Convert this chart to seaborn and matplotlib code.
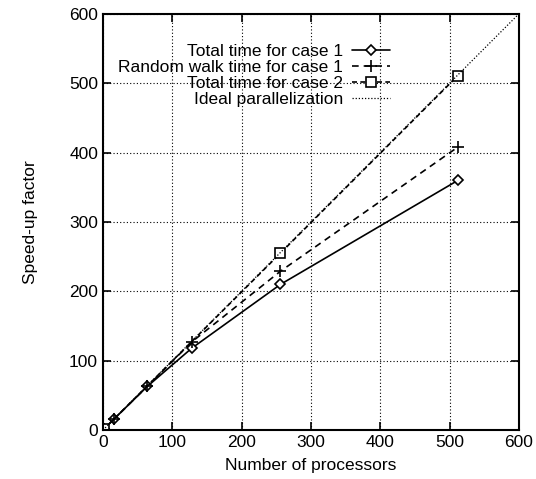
import seaborn as sns
import matplotlib.pyplot as plt
import pandas as pd

# speed-up data
procs_case1 = [1, 16, 64, 128, 256, 512]
total_case1 = [1, 16, 63, 118, 210, 360]
walk_case1 = [1, 16, 63, 127, 229, 408]

procs_case2 = [1, 256, 512]
total_case2 = [1, 255, 511]

ideal_x = [0, 600]
ideal_y = [0, 600]

sns.set_style('ticks')
plt.rcParams['font.family'] = ['Liberation Sans', 'DejaVu Sans']
plt.rcParams['text.color'] = 'black'
plt.rcParams['axes.labelcolor'] = 'black'

fig = plt.figure(figsize=(5.36, 4.79), dpi=100)
ax = fig.add_axes([0.192, 0.102, 0.776, 0.869])

df1 = pd.DataFrame({'p': procs_case1, 'total': total_case1, 'walk': walk_case1})
df2 = pd.DataFrame({'p': procs_case2, 'total': total_case2})

sns.lineplot(x='p', y='total', data=df1, ax=ax, color='black', lw=1.2,
             marker='D', markersize=5, markerfacecolor='white', markeredgecolor='black',
             markeredgewidth=1.2, label='Total time for case 1')
sns.lineplot(x='p', y='walk', data=df1, ax=ax, color='black', lw=1.2,
             linestyle=(0, (4, 3)), marker='+', markersize=8, markeredgecolor='black',
             markeredgewidth=1.2, label='Random walk time for case 1')
sns.lineplot(x='p', y='total', data=df2, ax=ax, color='black', lw=1.2,
             linestyle=(0, (3, 2)), marker='s', markersize=7, markerfacecolor='white',
             markeredgecolor='black', markeredgewidth=1.2, label='Total time for case 2')
ax.plot(ideal_x, ideal_y, color='black', lw=0.9, linestyle=(0, (1, 1.5)),
        label='Ideal parallelization')

ax.set_xlim(0, 600)
ax.set_ylim(0, 600)
ax.set_xticks(range(0, 601, 100))
ax.set_yticks(range(0, 601, 100))
ax.grid(True, color='black', linestyle=(0, (1, 2)), lw=0.8)
ax.tick_params(direction='in', top=True, right=True, length=6, width=1.2, labelsize=12.5,
               colors='black')
for s in ax.spines.values():
    s.set_linewidth(1.5)
    s.set_color('black')

ax.set_xlabel('Number of processors', fontsize=12.5, labelpad=6)
ax.set_ylabel('Speed-up factor', fontsize=12.5, labelpad=22)

# gnuplot-style key: labels right-aligned, sample lines on the right
leg = ax.legend(loc='upper right', bbox_to_anchor=(0.72, 0.958), frameon=False,
                markerfirst=False, fontsize=12.5, handlelength=2.2, labelspacing=0.05,
                borderpad=0.2, handletextpad=0.5)
for col in leg._legend_handle_box.get_children():
    col.align = 'right'

fig.savefig('out.png', dpi=100)
